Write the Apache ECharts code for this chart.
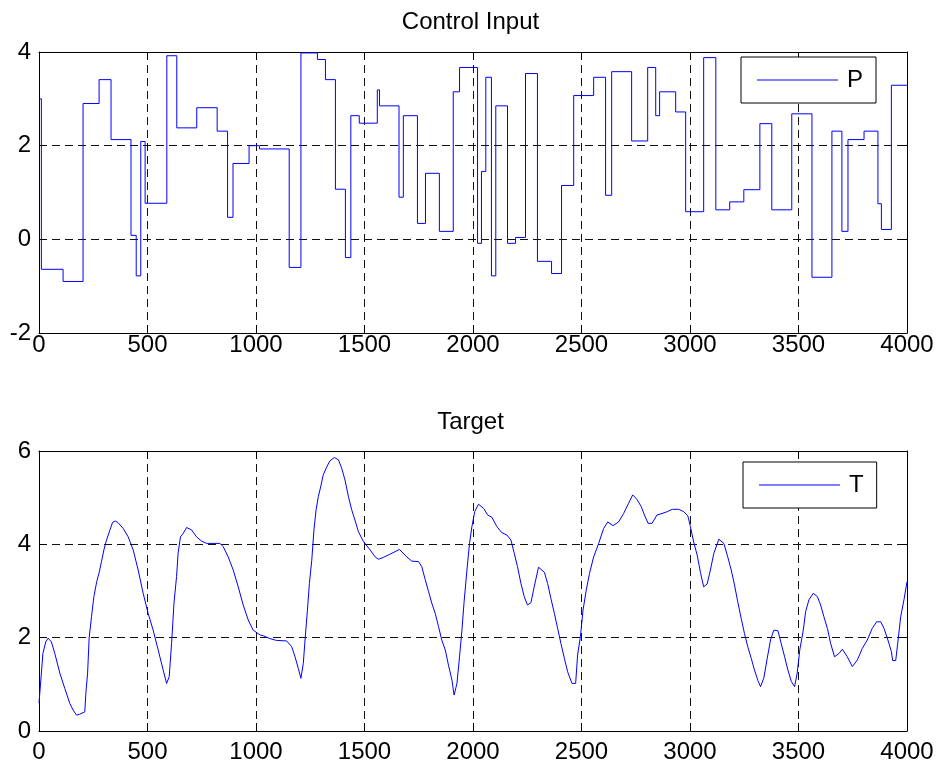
<!DOCTYPE html>
<html>
<head>
<meta charset="utf-8">
<title>Control Input / Target</title>
<script src="https://cdn.jsdelivr.net/npm/echarts@6/dist/echarts.min.js"></script>
<style>
  html, body { margin: 0; padding: 0; background: #fff; }
  #chart { width: 941px; height: 767px; }
</style>
</head>
<body>
<div id="chart"></div>
<script>
// 控制输入 P（阶梯信号）：变化时刻与保持值
const pTimes = [0, 11, 111, 203, 277, 332, 424, 448, 469, 489, 589, 635, 727, 821, 869, 894, 968,
    1016, 1153, 1207, 1283, 1320, 1366, 1412, 1437, 1476, 1559, 1569, 1659, 1679, 1744, 1781, 1845,
    1909, 1938, 2021, 2039, 2059, 2085, 2105, 2159, 2196, 2242, 2297, 2362, 2408, 2464, 2556, 2611,
    2639, 2731, 2805, 2842, 2860, 2934, 2980, 3063, 3119, 3183, 3248, 3322, 3377, 3469, 3562, 3654,
    3700, 3728, 3802, 3866, 3882, 3928, 4000];
const pValues = [3.0, -0.64, -0.90, 2.90, 3.41, 2.13, 0.085, -0.78, 2.09, 0.77, 3.92, 2.38, 2.81, 2.31, 0.47, 1.62, 2.0,
    1.93, -0.60, 3.98, 3.84, 3.41, 1.07, -0.39, 2.64, 2.48, 3.19, 2.85, 0.90, 2.64, 0.34, 1.41, 0.17,
    3.15, 3.67, -0.085, 1.45, 3.46, -0.78, 2.85, -0.085, 0.04, 3.54, -0.47, -0.73, 1.15, 3.07, 3.46, 0.94,
    3.58, 2.10, 3.67, 2.64, 3.15, 2.72, 0.59, 3.88, 0.63, 0.80, 1.06, 2.47, 0.63, 2.68, -0.81, 2.31,
    0.17, 2.13, 2.31, 0.76, 0.21, 3.29, 3.29];

// 目标 T
const tTimes = [0, 11, 18, 31, 42, 57, 73, 96, 119, 142, 157, 173, 188, 211, 216, 224, 231, 242, 253, 266,
    278, 288, 299, 311, 327, 339, 352, 365, 388, 411, 434, 457, 480, 503, 526, 549, 572, 588, 600, 611,
    622, 634, 641, 652, 664, 680, 703, 726, 749, 772, 834, 849, 872, 895, 918, 941, 964, 987, 1018, 1034,
    1064, 1095, 1141, 1164, 1180, 1195, 1207, 1218, 1226, 1237, 1246, 1257, 1267, 1277, 1287, 1298, 1310,
    1326, 1341, 1361, 1380, 1395, 1410, 1426, 1441, 1456, 1472, 1495, 1526, 1549, 1564, 1587, 1618, 1661,
    1695, 1718, 1749, 1764, 1780, 1795, 1810, 1826, 1841, 1856, 1872, 1887, 1903, 1913, 1926, 1938, 1949,
    1959, 1972, 1984, 1995, 2008, 2025, 2049, 2067, 2087, 2110, 2133, 2156, 2175, 2190, 2205, 2221, 2236,
    2251, 2267, 2282, 2302, 2329, 2344, 2359, 2375, 2390, 2405, 2421, 2436, 2456, 2473, 2482, 2495, 2507,
    2522, 2537, 2556, 2579, 2602, 2621, 2645, 2671, 2694, 2717, 2736, 2756, 2775, 2790, 2807, 2825, 2848,
    2871, 2895, 2918, 2948, 2971, 2990, 3002, 3017, 3033, 3048, 3063, 3079, 3094, 3110, 3133, 3156, 3174,
    3190, 3205, 3220, 3236, 3251, 3266, 3282, 3297, 3313, 3325, 3340, 3356, 3371, 3386, 3405, 3420, 3436,
    3451, 3467, 3482, 3494, 3506, 3522, 3533, 3548, 3568, 3587, 3602, 3617, 3633, 3648, 3666, 3686, 3702,
    3725, 3748, 3771, 3794, 3817, 3840, 3860, 3879, 3894, 3912, 3928, 3934, 3948, 3959, 3971, 3986, 4000];
const tValues = [0.6, 1.24, 1.66, 1.91, 1.99, 1.91, 1.66, 1.24, 0.91, 0.59, 0.45, 0.34, 0.36, 0.41, 0.81, 1.24, 1.99, 2.45, 2.88, 3.20,
    3.41, 3.63, 3.88, 4.09, 4.31, 4.47, 4.50, 4.46, 4.34, 4.16, 3.88, 3.45, 2.95, 2.52, 2.16, 1.74, 1.31, 1.02, 1.16, 1.88,
    2.74, 3.31, 3.81, 4.16, 4.23, 4.36, 4.31, 4.16, 4.07, 4.02, 4.02, 3.95, 3.73, 3.45, 3.09, 2.70, 2.38, 2.16, 2.06, 2.04,
    1.98, 1.94, 1.93, 1.81, 1.59, 1.34, 1.13, 1.45, 1.95, 2.59, 3.16, 3.66, 4.31, 4.74, 5.02, 5.23, 5.49,
    5.66, 5.79, 5.86, 5.81, 5.63, 5.38, 5.02, 4.74, 4.52, 4.27, 4.06, 3.88, 3.73, 3.68, 3.72, 3.79, 3.89,
    3.73, 3.64, 3.63, 3.52, 3.24, 2.99, 2.74, 2.52, 2.24, 1.95, 1.74, 1.41, 1.09, 0.77, 1.02, 1.59, 2.16,
    2.77, 3.45, 4.02, 4.38, 4.70, 4.86, 4.77, 4.63, 4.58, 4.38, 4.25, 4.20, 4.09, 3.81, 3.52, 3.16, 2.88,
    2.70, 2.75, 3.09, 3.51, 3.40, 3.16, 2.84, 2.52, 2.20, 1.88, 1.56, 1.27, 1.02, 1.02, 1.63, 2.02, 2.59,
    3.02, 3.38, 3.73, 4.02, 4.34, 4.48, 4.40, 4.48, 4.66, 4.88, 5.06, 4.96, 4.81, 4.63, 4.45, 4.45, 4.63,
    4.66, 4.70, 4.75, 4.75, 4.70, 4.61, 4.38, 4.05, 3.77, 3.40, 3.09, 3.15, 3.45, 3.81, 4.11, 4.02, 3.73,
    3.45, 3.13, 2.77, 2.41, 2.09, 1.81, 1.56, 1.31, 1.08, 0.95, 1.13, 1.56, 1.95, 2.16, 2.15, 1.88, 1.59,
    1.31, 1.06, 0.95, 1.24, 1.74, 2.16, 2.56, 2.81, 2.95, 2.88, 2.70, 2.45, 2.20, 1.88, 1.59, 1.66, 1.75,
    1.59, 1.38, 1.52, 1.77, 1.95, 2.20, 2.34, 2.34, 2.20, 1.95, 1.70, 1.51, 1.51, 1.95, 2.45, 2.81, 3.20];

const xTicks = [0, 4000, 500];
const topYTicks = [-2, 4, 2];
const bottomYTicks = [0, 6, 2];

const font = '"Liberation Sans", Arial, Helvetica, sans-serif';

function pairs(xs, ys) {
    return xs.map(function (x, i) { return [x, ys[i]]; });
}
function plain(v) { return String(v); }

function mainX(grid, margin) {
    return {
        gridIndex: grid, type: 'value', position: 'bottom',
        min: xTicks[0], max: xTicks[1], interval: xTicks[2],
        axisLine: { show: true, onZero: false, lineStyle: { color: '#000', width: 1 } },
        axisTick: { show: true, inside: true, length: 8, lineStyle: { color: '#000' } },
        axisLabel: { color: '#000', fontSize: 24, fontFamily: font, margin: margin, formatter: plain },
        splitLine: { show: true, lineStyle: { color: '#111', type: [8, 5], width: 1 } }
    };
}
function sideX(grid) {
    return {
        gridIndex: grid, type: 'value', position: 'top',
        min: xTicks[0], max: xTicks[1], interval: xTicks[2],
        axisLine: { show: true, onZero: false, lineStyle: { color: '#000', width: 1 } },
        axisTick: { show: true, inside: true, length: 8, lineStyle: { color: '#000' } },
        axisLabel: { show: false },
        splitLine: { show: false }
    };
}
function mainY(grid, ticks) {
    return {
        gridIndex: grid, type: 'value', position: 'left',
        min: ticks[0], max: ticks[1], interval: ticks[2],
        axisLine: { show: true, onZero: false, lineStyle: { color: '#000', width: 1 } },
        axisTick: { show: true, inside: true, length: 8, lineStyle: { color: '#000' } },
        axisLabel: { color: '#000', fontSize: 24, fontFamily: font, margin: 8, formatter: plain },
        splitLine: { show: true, lineStyle: { color: '#111', type: [8, 5], width: 1 } }
    };
}
function sideY(grid, ticks) {
    return {
        gridIndex: grid, type: 'value', position: 'right',
        min: ticks[0], max: ticks[1], interval: ticks[2],
        axisLine: { show: true, onZero: false, lineStyle: { color: '#000', width: 1 } },
        axisTick: { show: true, inside: true, length: 8, lineStyle: { color: '#000' } },
        axisLabel: { show: false },
        splitLine: { show: false }
    };
}
function legendBox(name, left, top) {
    return {
        data: [name], left: left, top: top, orient: 'horizontal',
        padding: [10, 13, 10, 16],
        icon: 'rect', itemWidth: 81, itemHeight: 1,
        backgroundColor: '#fff', borderColor: '#000', borderWidth: 1, borderRadius: 0,
        textStyle: { color: '#000', fontSize: 24, fontFamily: font, lineHeight: 26, padding: [0, 0, 0, 4] }
    };
}

(function () {
    let myChart = echarts.init(document.getElementById('chart'), null, { renderer: 'canvas' });
    let option = {
        animation: false,
        backgroundColor: '#fff',
        title: [
            { text: 'Control Input', left: 'center', top: 10, padding: 0,
              textStyle: { color: '#000', fontSize: 24, fontWeight: 'normal', fontFamily: font } },
            { text: 'Target', left: 'center', top: 410, padding: 0,
              textStyle: { color: '#000', fontSize: 24, fontWeight: 'normal', fontFamily: font } }
        ],
        legend: [legendBox('P', 741, 57), legendBox('T', 743, 462)],
        grid: [
            { left: 39, top: 52, right: 34, bottom: 434, containLabel: false, outerBoundsMode: 'none' },
            { left: 39, top: 451, right: 34, bottom: 36, containLabel: false, outerBoundsMode: 'none' }
        ],
        xAxis: [mainX(0, 0), sideX(0), mainX(1, 9), sideX(1)],
        yAxis: [mainY(0, topYTicks), sideY(0, topYTicks), mainY(1, bottomYTicks), sideY(1, bottomYTicks)],
        series: [
            {
                name: 'P', type: 'line', xAxisIndex: 0, yAxisIndex: 0,
                step: 'end', symbol: 'none', clip: true,
                lineStyle: { color: '#0000ff', width: 1 },
                itemStyle: { color: '#0000ff' },
                data: pairs(pTimes, pValues)
            },
            {
                name: 'T', type: 'line', xAxisIndex: 2, yAxisIndex: 2,
                symbol: 'none', clip: true,
                lineStyle: { color: '#0000ff', width: 1 },
                itemStyle: { color: '#0000ff' },
                data: pairs(tTimes, tValues)
            }
        ]
    };
    myChart.setOption(option);
    window.addEventListener('resize', function () {
        myChart.resize();
    });
})();
</script>
</body>
</html>
